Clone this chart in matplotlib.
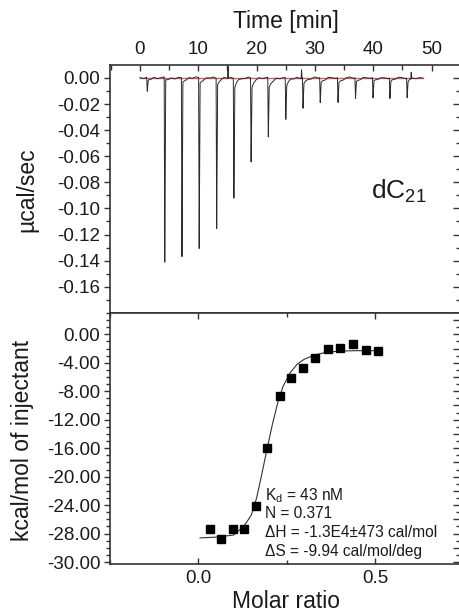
import numpy as np
import matplotlib
matplotlib.use("Agg")
import matplotlib.pyplot as plt
from matplotlib.ticker import MultipleLocator, FixedLocator

plt.rcParams['font.family'] = ['Liberation Sans', 'DejaVu Sans']
plt.rcParams['mathtext.fontset'] = 'custom'
plt.rcParams['mathtext.rm'] = 'Liberation Sans'
plt.rcParams['mathtext.it'] = 'Liberation Sans:italic'
plt.rcParams['mathtext.default'] = 'regular'

# ---------------- data ----------------
# thermogram: injection times [min], peak minima [ucal/sec], tail level after each peak
inj_times = [1.15, 4.15, 7.1, 10.05, 13.05, 16.0, 18.95, 21.9, 24.9, 27.85,
             30.8, 33.85, 36.85, 39.85, 42.75, 45.7]
inj_peaks = [-0.0107, -0.142, -0.137, -0.131, -0.115, -0.0916, -0.0643, -0.0459,
             -0.0319, -0.0235, -0.0191, -0.0191, -0.0158, -0.0158, -0.0158, -0.0150]
inj_tails = [-0.002, -0.002, -0.003, -0.004, -0.005, -0.007, -0.007, -0.008,
             -0.006, -0.005, -0.004, -0.004, -0.003, -0.003, -0.003, -0.003]
# small upward blips on the baseline
blip_times = [15.1, 27.7, 46.5]
blip_heights = [0.009, 0.0065, 0.005]
# baseline wiggle (x1e-3 ucal/sec), evenly spaced over 0..48.5 min
baseline_wiggle = [0.3, -0.4, 0.6, -0.2, 0.8, -0.5, 0.2, 0.9, -0.3, 0.4,
                   -0.7, 0.5, 0.1, -0.6, 0.7, -0.2, 0.9, 0.3, -0.5, 0.6,
                   -0.1, 0.8, -0.4, 0.2, 1.1, -0.3, 0.5, -0.6, 0.9, 0.2,
                   -0.4, 0.7, -0.2, 0.4, 1.0, -0.5, 0.3, 0.8, -0.3, 0.6,
                   -0.7, 0.4, 0.1, 0.9, -0.2, 0.5, -0.6, 0.7, 0.3, -0.4,
                   0.8, -0.1, 0.5, -0.5, 0.9, 0.2, -0.3, 0.6, -0.6, 0.4,
                   0.8, -0.2, 0.3, -0.5, 0.7, 0.1, -0.4, 0.9, -0.3, 0.5,
                   0.2, -0.6, 0.6, -0.2, 0.8, 0.3, -0.5, 0.4, 0.7, -0.3,
                   0.2, 0.0]
t_end = 48.5

# integrated heats
molar_ratio = [0.034, 0.065, 0.099, 0.130, 0.163, 0.195, 0.230, 0.262, 0.297,
               0.331, 0.367, 0.401, 0.439, 0.474, 0.510]
heat = [-27.4, -28.7, -27.3, -27.4, -24.1, -15.95, -8.6, -6.1, -4.8,
        -3.3, -2.0, -1.9, -1.3, -2.2, -2.3]
# fitted curve
fit_x = [0.005, 0.05, 0.10, 0.13, 0.15, 0.165, 0.18, 0.195, 0.21, 0.225,
         0.24, 0.26, 0.28, 0.30, 0.33, 0.36, 0.40, 0.45, 0.51]
fit_y = [-28.6, -28.5, -28.2, -26.9, -25.4, -23.0, -19.6, -16.0, -12.6, -9.6,
         -7.3, -5.4, -4.2, -3.5, -2.9, -2.55, -2.35, -2.3, -2.3]

fit_text = [r'K$_{\rm d}$ = 43 nM', 'N = 0.371',
            'ΔH = -1.3E4±473 cal/mol', 'ΔS = -9.94 cal/mol/deg']

power_ticks = [0.0, -0.02, -0.04, -0.06, -0.08, -0.10, -0.12, -0.14, -0.16]
heat_ticks = [0, -4, -8, -12, -16, -20, -24, -28, -32]
heat_ticklabels = ['0.00', '-4.00', '-8.00', '-12.00', '-16.00', '-20.00',
                   '-24.00', '-28.00', '-30.00']

# ---------------- build thermogram trace ----------------
peak_rel = np.array([0.0, 0.1, 0.25, 0.5, 0.9, 1.4, 2.0])
knots = [t0 + peak_rel for t0 in inj_times]
knots += [np.array([tb - 0.08, tb, tb + 0.08]) for tb in blip_times]
t = np.union1d(np.linspace(0, t_end, 4000), np.concatenate(knots))
t = t[t <= t_end]
wt = np.linspace(0, t_end, len(baseline_wiggle))
y = np.interp(t, wt, np.array(baseline_wiggle) * 1e-3)
for t0, d, tl in zip(inj_times, inj_peaks, inj_tails):
    val = [0.0, d, tl, tl * 0.6, tl * 0.3, tl * 0.1, 0.0]
    y += np.interp(t, t0 + peak_rel, val, left=0, right=0)
for tb, hb in zip(blip_times, blip_heights):
    y += np.interp(t, [tb - 0.08, tb, tb + 0.08], [0, hb, 0], left=0, right=0)

# ---------------- figure ----------------
W, H = 459, 614
fig = plt.figure(figsize=(W / 100, H / 100), dpi=100)
x0, x1 = 110, 460.4
ytop, ymid, ybot = 65, 313.3, 563.5
ax1 = fig.add_axes([x0 / W, 1 - ymid / H, (x1 - x0) / W, (ymid - ytop) / H])
ax2 = fig.add_axes([x0 / W, 1 - ybot / H, (x1 - x0) / W, (ybot - ymid) / H])

spine_c = '#333333'
txt_c = '#1a1a1a'
tfs = 13.5

for ax in (ax1, ax2):
    for s in ax.spines.values():
        s.set_color(spine_c)
        s.set_linewidth(1.2)

# top panel
ax1.plot([0, t_end], [0, 0], color='#c86464', lw=1.0, zorder=2)
ax1.plot(t, y, color='#2a2a2a', lw=0.7, zorder=3)
ax1.set_xlim(-5.14, 54.93)
ax1.set_ylim(-0.1804, 0.00996)
ax1.xaxis.tick_top()
ax1.xaxis.set_major_locator(MultipleLocator(10))
ax1.xaxis.set_minor_locator(MultipleLocator(5))
ax1.yaxis.set_major_locator(FixedLocator(power_ticks))
ax1.yaxis.set_minor_locator(MultipleLocator(0.01))
ax1.yaxis.set_major_formatter(plt.FuncFormatter(lambda v, p: '%.2f' % v if abs(v) > 1e-9 else '0.00'))
ax1.tick_params(axis='x', which='both', top=True, bottom=False, labeltop=True,
                labelbottom=False, direction='in', color=spine_c, labelsize=tfs,
                labelcolor=txt_c, pad=5)
ax1.tick_params(axis='x', which='major', length=4.5, width=1.0)
ax1.tick_params(axis='x', which='minor', length=3.5, width=1.0)
ax1.tick_params(axis='y', which='both', left=True, right=False, direction='out',
                color=spine_c, labelsize=tfs, labelcolor=txt_c, pad=2.5)
ax1.tick_params(axis='y', which='major', length=4.5, width=1.0)
ax1.tick_params(axis='y', which='minor', length=3, width=1.0)
r1 = ax1.secondary_yaxis('right')
r1.yaxis.set_major_locator(MultipleLocator(0.02))
r1.yaxis.set_minor_locator(MultipleLocator(0.01))
r1.tick_params(which='both', direction='in', labelright=False, color=spine_c, width=1.0)
r1.tick_params(which='major', length=5)
r1.tick_params(which='minor', length=3)
r1.spines['right'].set_color(spine_c)
ax1.text(0.744, 0.46, r'dC$_{21}$', transform=ax1.transAxes, fontsize=19,
         color=txt_c, ha='left', va='baseline')

# bottom panel
ax2.plot(fit_x, fit_y, color='#333333', lw=0.8, zorder=2)
ax2.plot(molar_ratio, heat, 's', color='black', ms=6, zorder=3)
ax2.set_xlim(-0.25, 0.742)
ax2.set_ylim(-32.2, 2.95)
ax2.xaxis.set_major_locator(FixedLocator([0.0, 0.5]))
ax2.xaxis.set_minor_locator(MultipleLocator(0.25))
ax2.xaxis.set_major_formatter(plt.FuncFormatter(lambda v, p: '%.1f' % v))
ax2.set_yticks(heat_ticks)
ax2.set_yticklabels(heat_ticklabels)
ax2.yaxis.set_minor_locator(MultipleLocator(1))
ax2.tick_params(axis='x', which='both', top=True, bottom=True, direction='in',
                color=spine_c, labelsize=tfs, labelcolor=txt_c, pad=4.5)
ax2.tick_params(axis='x', which='major', length=4.5, width=1.0)
ax2.tick_params(axis='x', which='minor', length=3, width=1.0)
ax2.tick_params(axis='y', which='both', left=True, right=False, direction='out',
                color=spine_c, labelsize=tfs, labelcolor=txt_c, pad=2.5)
ax2.tick_params(axis='y', which='major', length=4.5, width=1.0)
ax2.tick_params(axis='y', which='minor', length=3, width=1.0)
r2 = ax2.secondary_yaxis('right')
r2.yaxis.set_major_locator(MultipleLocator(2))
r2.yaxis.set_minor_locator(MultipleLocator(1))
r2.tick_params(which='both', direction='in', labelright=False, color=spine_c, width=1.0)
r2.tick_params(which='major', length=5)
r2.tick_params(which='minor', length=3)
r2.spines['right'].set_color(spine_c)

ybase = [0.254, 0.181, 0.105, 0.030]
for s, yb in zip(fit_text, ybase):
    ax2.text(0.442, yb, s, transform=ax2.transAxes, fontsize=11.2, color=txt_c,
             ha='left', va='baseline')

# axis titles
fig.text(286 / W, 1 - 21.7 / H, 'Time [min]', ha='center', va='center', fontsize=16.5, color=txt_c)
fig.text(26.7 / W, 1 - 190 / H, 'µcal/sec', ha='center', va='center', rotation=90, fontsize=16.5, color=txt_c)
fig.text(22.7 / W, 1 - 440 / H, 'kcal/mol of injectant', ha='center', va='center', rotation=90, fontsize=16.5, color=txt_c)
fig.text(285.7 / W, 1 - 601.7 / H, 'Molar ratio', ha='center', va='center', fontsize=16.5, color=txt_c)

fig.savefig('out.png', dpi=100)
